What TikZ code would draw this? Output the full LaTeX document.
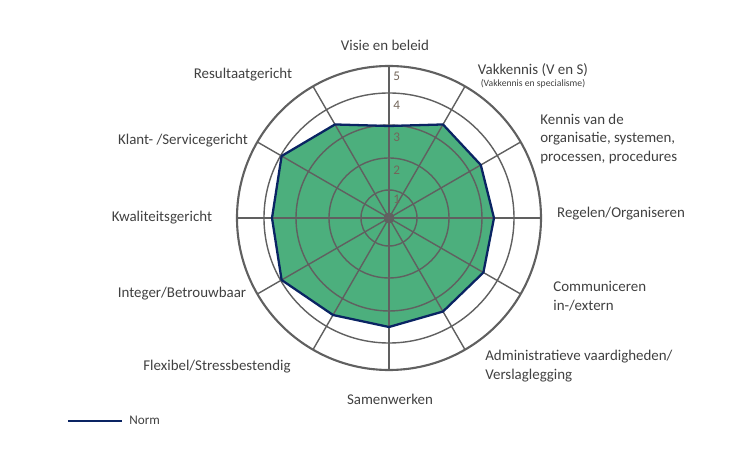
\documentclass[tikz,border=0pt]{standalone}
\usepackage{fontspec}
\setmainfont{Carlito}
\definecolor{gridgray}{HTML}{606060}
\definecolor{txtgray}{HTML}{404040}
\definecolor{radargreen}{HTML}{4CAF7D}
\definecolor{normblue}{HTML}{0A2463}
\begin{document}
\begin{tikzpicture}[
        x=0.02cm, y=0.02cm,
        grid/.style={draw=gridgray, line width=0.8pt},
        lbl/.style={font=\fontsize{8.5}{10.5}\selectfont, text=txtgray, inner sep=0pt},
        tick/.style={font=\fontsize{7.5}{9}\selectfont, text=gridgray!80!brown, anchor=west, inner sep=0pt}
    ]
        \useasboundingbox (-389,-258) rectangle (365,218);

        % Radar area
        \fill[radargreen] (90:92) -- (60:108) -- (30:106) -- (0:105) -- (-30:109) -- (-60:108)
            -- (-90:109) -- (-120:112) -- (-150:124) -- (180:117) -- (150:124) -- (120:108) -- cycle;

        % Grid
        \foreach \r in {28,60,93,125} \draw[grid] (0,0) circle (\r);
        \draw[grid, line width=1.2pt] (0,0) circle (152);
        \foreach \a in {0,30,...,330} \draw[grid] (0,0) -- (\a:152);
        \fill[gridgray] (0,0) circle (5.5);

        % Norm outline
        \draw[normblue, line width=1.3pt, line join=round] (90:92) -- (60:108) -- (30:106) -- (0:105) -- (-30:109) -- (-60:108)
            -- (-90:109) -- (-120:112) -- (-150:124) -- (180:117) -- (150:124) -- (120:108) -- cycle;

        % Scale
        \node[tick] (t1) at (4,19) {1};
        \node[tick] (t2) at (4,48) {2};
        \node[tick] (t3) at (4,81) {3};
        \node[tick] (t4) at (4,113) {4};
        \node[tick] (t5) at (4,142) {5};

        % Labels
        \node[lbl] (visie) at (-4,173) {Visie en beleid};
        \node[lbl] (vak) at (144,148) {Vakkennis (V en S)};
        \node[lbl, font=\fontsize{5.5}{6.5}\selectfont] (vaksub) at (144,134) {(Vakkennis en specialisme)};
        \node[lbl, align=left, anchor=west] (kennis) at (151,79) {Kennis van de\\organisatie, systemen,\\processen, procedures};
        \node[lbl] (regelen) at (232,4) {Regelen/Organiseren};
        \node[lbl, align=left, anchor=west] (comm) at (164,-78) {Communiceren\\in-/extern};
        \node[lbl, align=left, anchor=west] (admin) at (96,-148) {Administratieve vaardigheden/\\Verslaglegging};
        \node[lbl] (samen) at (1,-181) {Samenwerken};
        \node[lbl] (flex) at (-172,-149) {Flexibel/Stressbestendig};
        \node[lbl] (integer) at (-207,-76) {Integer/Betrouwbaar};
        \node[lbl] (kwal) at (-227,0) {Kwaliteitsgericht};
        \node[lbl] (klant) at (-206,77) {Klant- /Servicegericht};
        \node[lbl] (result) at (-146,143) {Resultaatgericht};

        % Legend
        \coordinate (lgA) at (-321,-203);
        \coordinate (lgB) at (-267,-203);
        \draw[normblue, line width=1.3pt] (lgA) -- (lgB);
        \node[lbl, font=\fontsize{7.5}{9}\selectfont, anchor=west] (norm) at (-260,-202) {Norm};
    \end{tikzpicture}
\end{document}
